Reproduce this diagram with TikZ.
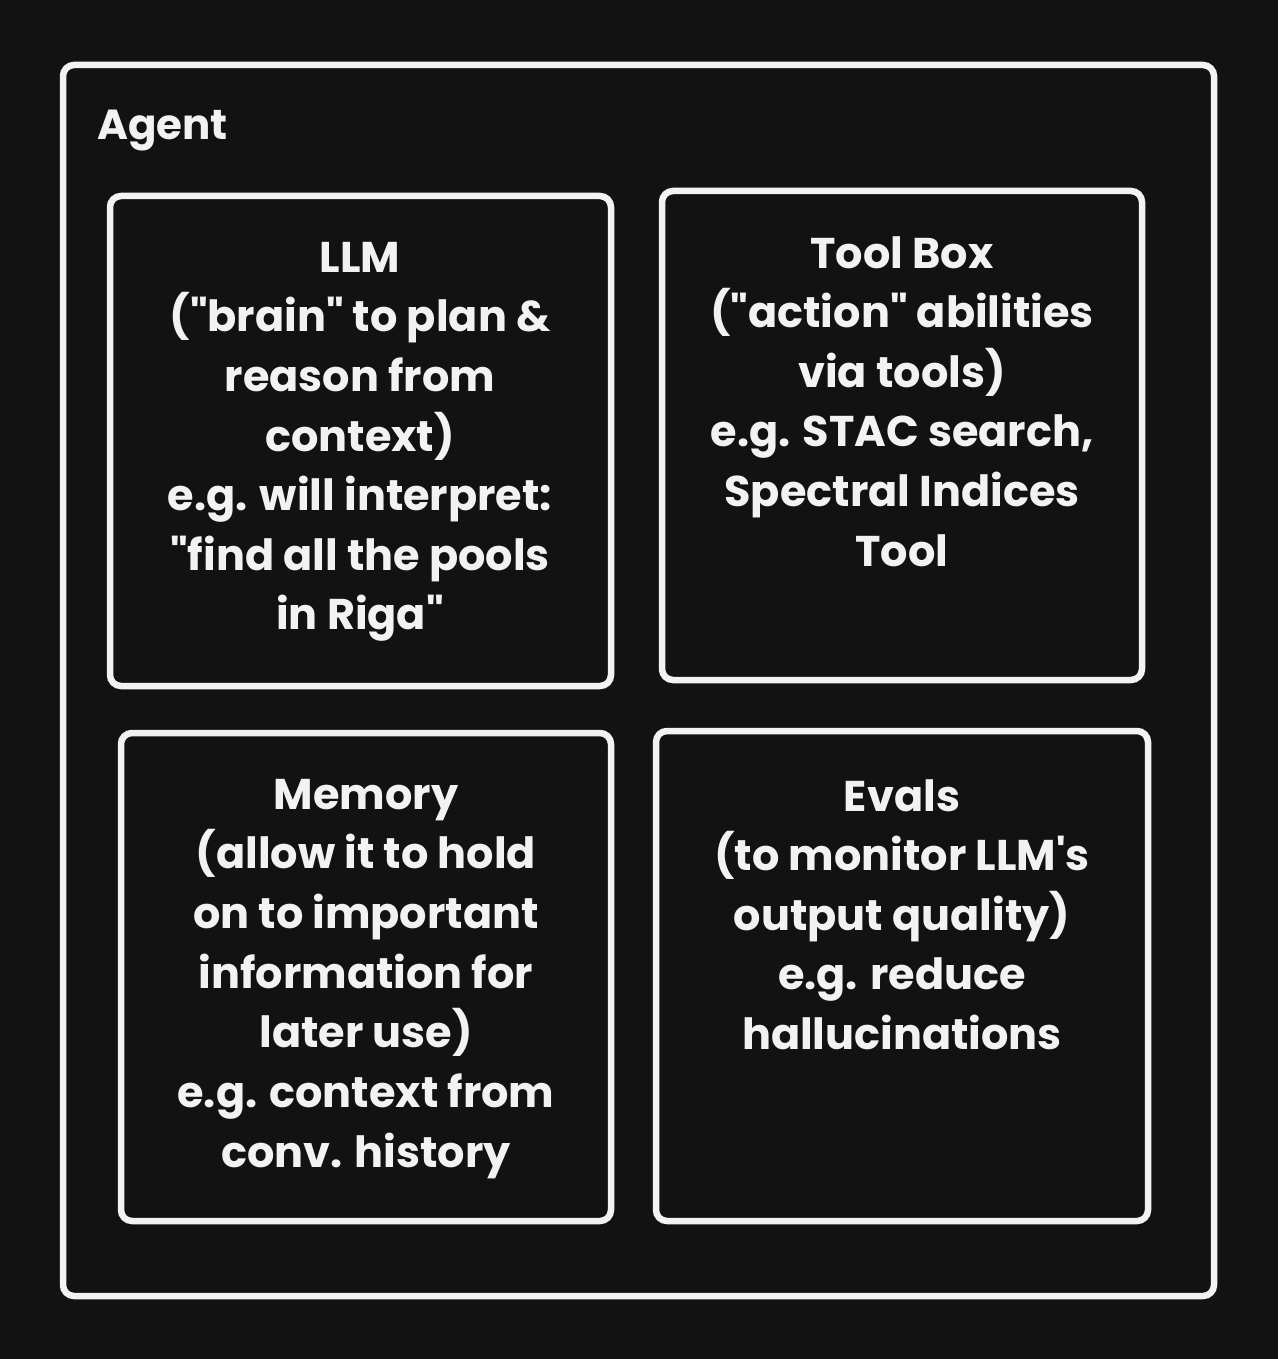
\documentclass[tikz,border=0pt]{standalone}
\usepackage{fontspec}
\setmainfont{Poppins}
\definecolor{bg}{HTML}{121212}
\definecolor{ln}{HTML}{F2F2F2}
\newcommand{\dq}{\textquotedbl}
\begin{document}
\begin{tikzpicture}[x=1pt,y=-1pt,
  box/.style={draw=ln,line width=6.5pt,rounded corners=11pt,fill=bg,inner sep=0pt},
  txt/.style={text=ln,align=center,font=\fontsize{43}{59.6}\selectfont\bfseries,inner sep=0pt,anchor=north}]
\fill[bg] (0,0) rectangle (1278,1359);
\useasboundingbox (0,0) rectangle (1278,1359);
\node[box,minimum width=1151pt,minimum height=1231pt] (outer) at (638.5,680.5) {};
\node[text=ln,font=\fontsize{42}{48}\selectfont\bfseries,anchor=base west,inner sep=0pt] (agent) at (97,140) {Agent};
\node[box,minimum width=501pt,minimum height=490pt] (llm) at (360.5,441) {};
\node[box,minimum width=480pt,minimum height=489pt] (tool) at (902,435.5) {};
\node[box,minimum width=490pt,minimum height=488pt] (mem) at (366,977) {};
\node[box,minimum width=492pt,minimum height=490pt] (evals) at (902,976) {};
\node[txt] (llmt) at (360,242) {LLM\\(\dq brain\dq{} to plan \&\\reason from\\context)\\e.g. will interpret:\\\dq find all the pools\\in Riga\dq};
\node[txt] (toolt) at (902,236) {Tool Box\\(\dq action\dq{} abilities\\via tools)\\e.g. STAC search,\\Spectral Indices\\Tool};
\node[txt] (memt) at (366,779) {Memory\\(allow it to hold\\on to important\\information for\\later use)\\e.g. context from\\conv. history};
\node[txt] (evalst) at (902,779) {Evals\\(to monitor LLM\textquotesingle s\\output quality)\\e.g. reduce\\hallucinations};
\end{tikzpicture}
\end{document}
